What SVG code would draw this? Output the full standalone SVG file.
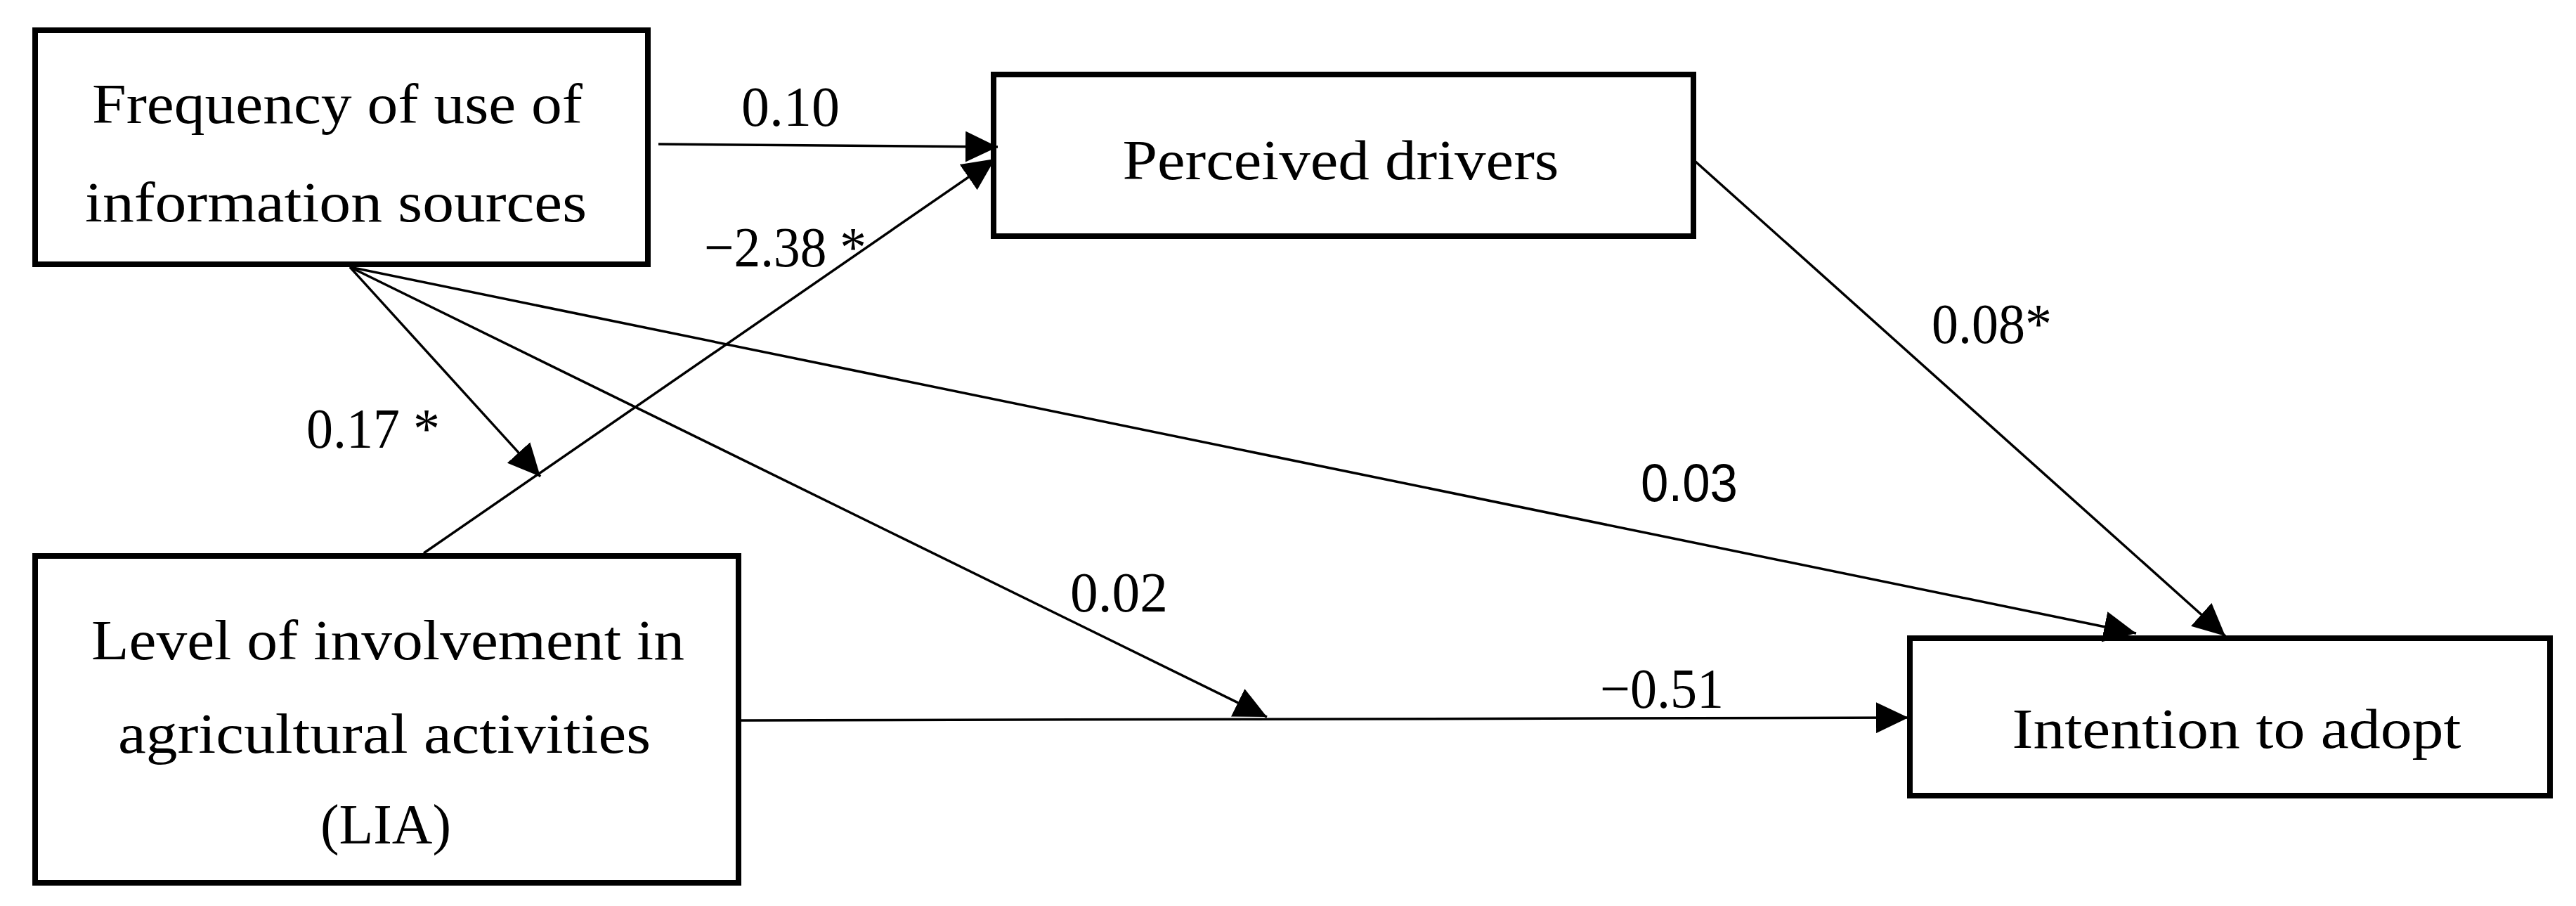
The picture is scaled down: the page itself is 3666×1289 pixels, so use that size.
<svg xmlns="http://www.w3.org/2000/svg" width="3666" height="1289" viewBox="0 0 3666 1289">
<style>
.box{fill:#fff;stroke:#000;stroke-width:8}
.nt{font-family:"Liberation Serif","Times New Roman",serif;font-size:80px;fill:#000;text-anchor:middle}
.lb{font-family:"Liberation Serif","Times New Roman",serif;font-size:80px;fill:#000}
.lbs{font-family:"Liberation Sans",Arial,sans-serif;font-size:76px;fill:#000}
.c{stroke:#000;stroke-width:3.5;fill:none;marker-end:url(#ah)}
</style>
<defs>
<marker id="ah" markerUnits="userSpaceOnUse" markerWidth="46" markerHeight="44" refX="46" refY="22" orient="auto" viewBox="0 0 46 44">
<path d="M0,0 L46,22 L0,44 z" fill="#000"/>
</marker>
</defs>
<rect width="3666" height="1289" fill="#fff"/>
<g id="node-frequency">
<rect class="box" x="50" y="43" width="872" height="333"/>
<text class="nt" x="480" y="175" textLength="698" lengthAdjust="spacingAndGlyphs">Frequency of use of</text>
<text class="nt" x="478" y="315" textLength="714" lengthAdjust="spacingAndGlyphs">information sources</text>
</g>
<g id="node-perceived">
<rect class="box" x="1414" y="106" width="996" height="230"/>
<text class="nt" x="1908" y="255" textLength="621" lengthAdjust="spacingAndGlyphs">Perceived drivers</text>
</g>
<g id="node-intention">
<rect class="box" x="2718" y="908" width="911" height="224"/>
<text class="nt" x="3183" y="1064" textLength="639" lengthAdjust="spacingAndGlyphs">Intention to adopt</text>
</g>
<g id="node-lia">
<rect class="box" x="50" y="791" width="1001" height="465"/>
<text class="nt" x="552" y="938" textLength="844" lengthAdjust="spacingAndGlyphs">Level of involvement in</text>
<text class="nt" x="547" y="1071" textLength="758" lengthAdjust="spacingAndGlyphs">agricultural activities</text>
<text class="nt" x="549" y="1200" textLength="186" lengthAdjust="spacingAndGlyphs">(LIA)</text>
</g>
<g id="connectors">
<line class="c" x1="937" y1="205" x2="1420" y2="209"/>
<line class="c" x1="603" y1="787" x2="1416" y2="226"/>
<line class="c" x1="498" y1="380" x2="769" y2="678"/>
<line class="c" x1="498" y1="380" x2="1803" y2="1020"/>
<line class="c" x1="498" y1="380" x2="3040" y2="901"/>
<line class="c" x1="2413" y1="230" x2="3167" y2="905"/>
<line class="c" x1="1054" y1="1025" x2="2716" y2="1021"/>
</g>
<g id="labels">
<text class="lb" x="1055" y="179" textLength="140" lengthAdjust="spacingAndGlyphs">0.10</text>
<text class="lb" x="1002" y="379" textLength="231" lengthAdjust="spacingAndGlyphs">−2.38 *</text>
<text class="lb" x="436" y="637" textLength="190" lengthAdjust="spacingAndGlyphs">0.17 *</text>
<text class="lb" x="2749" y="488" textLength="171" lengthAdjust="spacingAndGlyphs">0.08*</text>
<text class="lbs" x="2335" y="713" textLength="138" lengthAdjust="spacingAndGlyphs">0.03</text>
<text class="lb" x="1523" y="870" textLength="139" lengthAdjust="spacingAndGlyphs">0.02</text>
<text class="lb" x="2277" y="1007" textLength="176" lengthAdjust="spacingAndGlyphs">−0.51</text>
</g>
</svg>
